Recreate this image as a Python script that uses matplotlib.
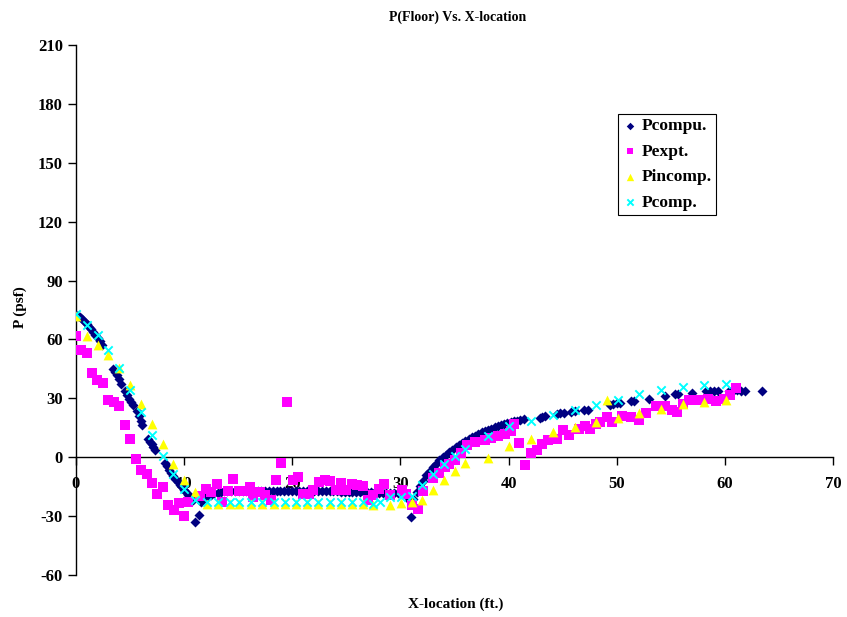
import matplotlib
matplotlib.use("Agg")
import matplotlib.pyplot as plt

# ---------------- data ----------------
pcompu_x = [0.0, 0.2, 0.4, 0.6, 0.8, 1.0, 1.2, 1.4, 1.6, 1.8, 2.0, 2.2, 2.4,
            3.4, 3.6, 3.8, 4.0, 4.2, 4.5, 4.7, 4.9, 5.1, 5.3, 5.6, 5.8, 6.0, 6.1,
            6.7, 6.85, 7.0, 7.15, 7.3, 8.2, 8.4, 8.6, 8.8, 9.0, 9.2, 9.4, 9.6, 9.8,
            10.0, 10.2, 10.4, 10.6, 10.8, 11.05, 11.35, 11.6, 11.9, 12.2, 12.5, 12.8,
            13.1, 13.4, 13.7, 14.0, 14.35, 14.7, 15.05, 15.4, 15.75, 16.1, 16.45, 16.8,
            17.15, 17.5, 17.85, 18.2, 18.55, 18.9, 19.25, 19.6, 19.95, 20.3, 20.65,
            21.0, 21.35, 21.7, 22.05, 22.4, 22.75, 23.1, 23.45, 23.8, 24.15, 24.5,
            24.85, 25.2, 25.55, 25.9, 26.25, 26.6, 26.95, 27.3, 27.65, 28.0, 28.35,
            28.7, 29.05, 29.4, 29.75, 30.1, 30.5, 30.8, 31.0, 31.2, 31.5, 31.8, 32.1,
            32.4, 32.7, 33.0, 33.3, 33.6, 33.9, 34.2, 34.5, 34.8, 35.1, 35.4, 35.7,
            36.0, 36.3, 36.6, 36.9, 37.2, 37.5, 37.8, 38.1, 38.4, 38.7, 39.0, 39.3,
            39.6, 39.9, 40.2, 40.5, 40.8, 41.1, 41.4, 42.9, 43.1, 43.4, 44.5, 44.8,
            45.1, 45.8, 46.1, 47.0, 47.3, 49.4, 49.7, 50.0, 50.3, 51.3, 51.6, 53.0,
            54.5, 55.4, 55.7, 57.0, 58.3, 58.6, 59.0, 59.4, 60.4, 60.8, 61.1, 61.5,
            61.9, 63.4]
pcompu_y = [72.5, 72.0, 71.2, 70.2, 69.0, 67.8, 66.5, 65.1, 63.7, 62.2, 60.6, 59.0, 57.3,
            44.8, 43.3, 41.7, 39.8, 37.5, 33.5, 31.6, 29.8, 28.2, 26.5, 23.5, 21.0, 18.5, 16.5,
            9.5, 7.8, 6.5, 5.0, 3.6, -3.0, -4.6, -6.3, -8.0, -9.5, -11.0, -12.5, -13.9, -15.2,
            -16.5, -17.7, -19.0, -20.4, -21.8, -33.0, -29.5, -23.0, -21.0, -19.8, -19.0, -18.4,
            -18.0, -17.6, -17.4, -17.3, -17.2, -17.3, -17.2, -17.3, -17.2, -17.3, -17.2, -17.3,
            -17.2, -17.3, -17.2, -17.3, -17.2, -17.3, -17.2, -17.3, -17.2, -17.3, -17.2,
            -17.3, -17.2, -17.3, -17.2, -17.3, -17.2, -17.3, -17.3, -17.4, -17.4, -17.5,
            -17.5, -17.6, -17.6, -17.7, -17.7, -17.8, -17.8, -17.9, -17.9, -18.0, -18.0,
            -18.1, -18.1, -18.2, -18.3, -18.5, -19.0, -22.0, -30.6, -21.5, -17.8, -14.8, -12.0,
            -9.3, -7.0, -5.0, -3.2, -1.5, 0.0, 1.3, 2.6, 3.8, 5.0, 6.1, 7.2,
            8.2, 9.2, 10.1, 11.0, 11.8, 12.6, 13.3, 14.0, 14.6, 15.2, 15.8, 16.3,
            16.8, 17.3, 17.8, 18.2, 18.6, 19.0, 19.3, 20.2, 20.5, 20.8, 22.0, 22.4,
            22.7, 23.1, 23.5, 23.9, 24.2, 26.8, 27.2, 27.5, 27.7, 28.5, 28.7, 29.9,
            31.4, 32.0, 32.3, 32.8, 33.6, 33.8, 33.8, 33.8, 33.8, 34.0, 34.0, 33.8,
            33.8, 33.8]

pexpt_x = [0.0, 0.5, 1.0, 1.45, 1.97, 2.46, 2.98, 3.5, 4.0, 4.52, 4.99, 5.54, 6.0, 6.53,
           7.02, 7.5, 8.0, 8.53, 9.05, 9.54, 10.0, 10.4, 11.45, 12.0, 12.5, 13.0, 13.5,
           14.1, 14.5, 15.1, 15.5, 16.1, 16.4, 17.0, 17.5, 18.0, 18.5, 19.0, 19.5, 20.1,
           20.5, 21.0, 21.5, 21.9, 22.5, 23.0, 23.45, 24.0, 24.5, 25.0, 25.5, 25.95, 26.5,
           27.0, 27.45, 28.0, 28.5, 29.0, 30.1, 30.5, 31.1, 31.6, 32.1, 33.0, 33.55, 34.1,
           34.5, 35.0, 35.6, 36.2, 36.9, 37.8, 38.4, 39.0, 39.7, 40.2, 40.5, 41.0, 41.5,
           42.1, 42.6, 43.1, 43.6, 44.5, 45.05, 45.6, 46.5, 47.1, 47.5, 48.1, 48.5, 49.1,
           49.6, 50.5, 51.3, 52.1, 52.7, 53.6, 54.5, 55.15, 55.6, 56.1, 56.7, 57.5, 58.4,
           59.2, 59.9, 60.5, 61.0]
pexpt_y = [62.0, 54.6, 53.0, 42.8, 39.4, 38.0, 29.2, 28.2, 26.0, 16.3, 9.5, -1.0, -6.6, -8.7,
           -12.9, -18.8, -15.1, -24.5, -27.0, -23.3, -29.9, -22.8, -19.5, -16.0, -17.9, -13.6, -22.8,
           -17.4, -11.3, -17.1, -17.1, -15.1, -20.2, -17.7, -19.4, -21.6, -11.5, -2.9, 28.2, -11.7,
           -10.0, -18.8, -18.8, -16.8, -12.6, -11.7, -12.0, -16.8, -13.1, -16.8, -13.4, -14.3, -14.8,
           -21.6, -19.4, -16.0, -13.8, -19.4, -16.8, -18.5, -24.5, -26.2, -17.2, -10.4, -8.0, -4.9,
           -3.2, -1.2, 1.9, 6.1, 7.8, 9.0, 10.0, 10.7, 12.0, 13.4, 17.1, 7.5, -4.1,
           1.9, 3.6, 6.9, 8.7, 9.5, 13.8, 11.2, 14.6, 15.8, 14.6, 16.8, 18.0, 20.5,
           18.0, 20.9, 20.5, 18.8, 22.3, 26.0, 26.0, 24.3, 23.1, 27.3, 29.0, 29.4, 29.9,
           28.7, 29.9, 31.6, 35.5]

pincomp_x = [0.0, 1.0, 2.0, 3.0, 4.0, 5.0, 6.0, 7.0, 8.0, 9.0, 10.0, 11.0,
             12.07, 13.1, 14.2, 15.1, 16.2, 17.2, 18.3, 19.3, 20.3, 21.4, 22.4, 23.45,
             24.5, 25.5, 26.5, 27.5, 29.0, 30.07, 31.05, 32.0, 33.0, 34.0, 35.0, 36.0,
             38.1, 40.0, 42.1, 44.1, 46.1, 48.1, 49.1, 50.1, 52.05, 54.1, 56.1, 58.1, 60.1]
pincomp_y = [72.0, 61.6, 57.0, 52.0, 45.5, 37.0, 27.3, 17.1, 6.6, -3.4, -11.4, -17.5,
             -23.8, -23.8, -23.8, -23.8, -23.8, -23.8, -23.8, -23.8, -23.8, -23.8, -23.8, -23.8,
             -23.8, -23.9, -24.0, -24.2, -24.5, -23.3, -22.8, -21.6, -16.5, -11.4, -7.0, -2.9,
             -0.2, 5.6, 9.5, 12.9, 15.5, 18.0, 29.4, 20.2, 22.6, 24.8, 27.0, 28.2, 29.0]

pcomp_x = [0.0, 1.0, 2.0, 3.0, 4.0, 5.0, 6.0, 7.0, 8.0, 9.0, 10.0, 11.0,
           12.07, 13.1, 14.2, 15.1, 16.2, 17.2, 18.3, 19.3, 20.3, 21.4, 22.4, 23.45,
           24.5, 25.5, 26.5, 27.5, 28.1, 29.0, 30.07, 31.05, 32.0, 33.0, 34.0, 35.0, 36.0,
           38.1, 40.0, 42.1, 44.1, 46.1, 48.1, 50.1, 52.05, 54.1, 56.1, 58.1, 60.1]
pcomp_y = [72.8, 67.2, 62.1, 54.5, 45.7, 34.5, 23.1, 11.2, 0.5, -8.3, -16.0, -21.9,
           -22.8, -22.8, -22.8, -22.8, -22.8, -22.8, -22.8, -22.8, -22.8, -22.8, -22.8, -22.8,
           -22.8, -22.8, -22.8, -23.6, -22.8, -20.5, -20.5, -20.0, -14.0, -8.7, -3.6, 0.5, 4.4,
           10.7, 16.0, 18.5, 21.4, 23.9, 26.8, 29.4, 32.1, 34.1, 35.8, 36.7, 37.2]

series_names = ["Pcompu.", "Pexpt.", "Pincomp.", "Pcomp."]
x_ticks = [0, 10, 20, 30, 40, 50, 60, 70]
y_ticks = [-60, -30, 0, 30, 60, 90, 120, 150, 180, 210]

# ---------------- plot ----------------
plt.rcParams['font.family'] = ['Liberation Serif', 'DejaVu Serif']
plt.rcParams['font.weight'] = 'bold'
plt.rcParams['axes.unicode_minus'] = False

fig = plt.figure(figsize=(8.47, 6.17), dpi=100)
ax = fig.add_axes([76/847, 1 - 575/617, (833 - 76)/847, (575 - 45)/617])

ax.scatter(pcompu_x, pcompu_y, marker='D', s=26, color='#000080', linewidths=0,
           label=series_names[0], zorder=3)
ax.scatter(pexpt_x, pexpt_y, marker='s', s=42, color='#FF00FF', linewidths=0,
           label=series_names[1], zorder=4)
ax.scatter(pincomp_x, pincomp_y, marker='^', s=50, color='#FFFF00', linewidths=0,
           label=series_names[2], zorder=5)
ax.scatter(pcomp_x, pcomp_y, marker='x', s=36, color='#00FFFF', linewidths=1.4,
           label=series_names[3], zorder=6)

ax.set_xlim(0, 70)
ax.set_ylim(-60, 210)
ax.set_xticks(x_ticks)
ax.set_yticks(y_ticks)

for s in ['top', 'right']:
    ax.spines[s].set_visible(False)
ax.spines['bottom'].set_position(('data', 0))
ax.spines['bottom'].set_linewidth(1.0)
ax.spines['left'].set_linewidth(1.0)

ax.tick_params(axis='both', direction='out', length=5.5, width=1.0, labelsize=12)
ax.tick_params(axis='x', pad=8)
ax.tick_params(axis='y', pad=4)
for lab in ax.get_xticklabels() + ax.get_yticklabels():
    lab.set_fontweight('bold')

fig.text(458/847, 1 - 17/617, "P(Floor) Vs. X-location", ha='center', va='center',
         fontsize=10, fontweight='bold')
fig.text(456/847, 1 - 604/617, "X-location (ft.)", ha='center', va='center',
         fontsize=11, fontweight='bold')
fig.text(20/847, 1 - 307/617, "P (psf)", ha='center', va='center', rotation=90,
         fontsize=11, fontweight='bold')

leg = ax.legend(loc='upper left', bbox_to_anchor=(618/847, 1 - 114/617),
                bbox_transform=fig.transFigure, borderaxespad=0, frameon=True,
                fancybox=False, edgecolor='black', framealpha=1,
                prop={'family': 'Liberation Serif', 'weight': 'bold', 'size': 12.5},
                handletextpad=0.2, handlelength=0.9, labelspacing=0.53,
                borderpad=0.25, markerscale=0.75)
leg.get_frame().set_linewidth(0.8)

fig.savefig("out.png", dpi=100)
